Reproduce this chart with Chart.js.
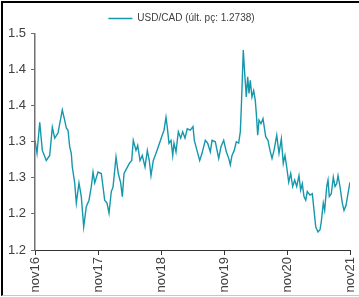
<!DOCTYPE html>
<html lang="pt">
<head>
<meta charset="UTF-8">
<title>USD/CAD</title>
<script src="https://cdn.jsdelivr.net/npm/chart.js"></script>
<style>
    html, body {
        margin: 0;
        padding: 0;
        background: #fff;
    }
    #wrap {
        position: relative;
        width: 359px;
        height: 297px;
        overflow: hidden;
    }
    #frame {
        position: absolute;
        left: 1px;
        top: 1px;
        width: 358px;
        height: 292px;
        border-top: 2px solid #000;
        border-left: 2px solid #000;
        border-bottom: 1px solid #c8c8c8;
        pointer-events: none;
    }
    canvas {
        position: absolute;
        left: 0;
        top: 0;
    }
</style>
</head>
<body>
<div id="wrap">
    <canvas id="fxChart" width="359" height="297"></canvas>
    <div id="frame"></div>
</div>

<script>
    // years since nov16 and the USD/CAD level
    const years = [
        0.000, 0.032, 0.075, 0.116, 0.179, 0.233, 0.275, 0.313, 0.365, 0.433,
        0.471, 0.497, 0.524, 0.551, 0.576, 0.592, 0.630, 0.656, 0.698, 0.735,
        0.773, 0.814, 0.857, 0.894, 0.921, 0.948, 1.000, 1.052, 1.079, 1.106,
        1.143, 1.175, 1.211, 1.238, 1.286, 1.322, 1.360, 1.386, 1.413, 1.456,
        1.497, 1.535, 1.560, 1.603, 1.630, 1.667, 1.703, 1.746, 1.783, 1.814,
        1.841, 1.878, 1.921, 1.957, 2.011, 2.048, 2.079, 2.100, 2.127, 2.159,
        2.186, 2.206, 2.238, 2.275, 2.313, 2.344, 2.381, 2.417, 2.465, 2.508,
        2.529, 2.571, 2.614, 2.651, 2.703, 2.741, 2.783, 2.810, 2.862, 2.916,
        2.952, 2.995, 3.037, 3.075, 3.100, 3.127, 3.163, 3.195, 3.233, 3.259,
        3.275, 3.290, 3.306, 3.329, 3.354, 3.376, 3.397, 3.417, 3.444, 3.471,
        3.497, 3.513, 3.535, 3.556, 3.587, 3.619, 3.662, 3.698, 3.730, 3.762,
        3.794, 3.837, 3.873, 3.910, 3.941, 3.968, 3.995, 4.027, 4.059, 4.090,
        4.122, 4.154, 4.190, 4.217, 4.243, 4.270, 4.297, 4.322, 4.365, 4.402,
        4.429, 4.456, 4.492, 4.524, 4.544, 4.576, 4.598, 4.630, 4.651, 4.671,
        4.703, 4.735, 4.762, 4.789, 4.810, 4.841, 4.878, 4.905, 4.937, 4.968,
        5.000
    ];
    const usdcad = [
        1.352, 1.334, 1.377, 1.338, 1.324, 1.331, 1.370, 1.355, 1.362, 1.394,
        1.380, 1.369, 1.366, 1.343, 1.334, 1.315, 1.293, 1.265, 1.293, 1.274,
        1.232, 1.260, 1.269, 1.288, 1.308, 1.293, 1.308, 1.306, 1.288, 1.269,
        1.265, 1.251, 1.281, 1.287, 1.329, 1.306, 1.293, 1.274, 1.306, 1.313,
        1.320, 1.324, 1.352, 1.338, 1.345, 1.324, 1.331, 1.315, 1.338, 1.324,
        1.303, 1.324, 1.334, 1.343, 1.357, 1.366, 1.384, 1.370, 1.348, 1.352,
        1.331, 1.348, 1.336, 1.364, 1.355, 1.364, 1.355, 1.368, 1.366, 1.371,
        1.352, 1.338, 1.324, 1.334, 1.352, 1.348, 1.336, 1.352, 1.350, 1.327,
        1.343, 1.352, 1.336, 1.327, 1.318, 1.331, 1.338, 1.350, 1.348, 1.364,
        1.398, 1.435, 1.477, 1.444, 1.412, 1.440, 1.417, 1.435, 1.412, 1.421,
        1.407, 1.389, 1.359, 1.380, 1.375, 1.382, 1.357, 1.352, 1.338, 1.327,
        1.338, 1.359, 1.334, 1.354, 1.320, 1.331, 1.315, 1.294, 1.306, 1.288,
        1.297, 1.288, 1.303, 1.283, 1.292, 1.274, 1.269, 1.281, 1.276, 1.278,
        1.255, 1.232, 1.225, 1.228, 1.239, 1.265, 1.255, 1.288, 1.297, 1.274,
        1.278, 1.301, 1.288, 1.292, 1.303, 1.288, 1.265, 1.255, 1.262, 1.278,
        1.294
    ];
    const xTickLabels = ['nov16', 'nov17', 'nov18', 'nov19', 'nov20', 'nov21'];
    const yTickLabels = ['1.2', '1.2', '1.3', '1.3', '1.4', '1.4', '1.5'];
    const seriesLabel = 'USD/CAD (últ. pç: 1.2738)';

    const lineColor = '#1597ac';

    const ctx = document.getElementById('fxChart').getContext('2d');
    new Chart(ctx, {
        type: 'line',
        data: {
            datasets: [{
                label: seriesLabel,
                data: years.map((t, i) => ({ x: t, y: usdcad[i] })),
                borderColor: lineColor,
                backgroundColor: lineColor,
                borderWidth: 1.4,
                pointRadius: 0,
                tension: 0
            }]
        },
        options: {
            responsive: false,
            animation: false,
            layout: {
                padding: { top: 4, left: 4, right: 0, bottom: 4 }
            },
            plugins: {
                legend: {
                    position: 'top',
                    labels: {
                        usePointStyle: true,
                        pointStyle: 'line',
                        pointStyleWidth: 24,
                        color: '#404040',
                        font: { family: 'Liberation Sans, Arial, sans-serif', size: 10 },
                        padding: 9.5
                    }
                },
                tooltip: { enabled: false }
            },
            scales: {
                x: {
                    type: 'linear',
                    min: 0,
                    max: 5,
                    afterFit: scale => {
                        scale.height = 43;
                        scale.paddingRight = 9;
                        scale.paddingLeft = 0;
                    },
                    border: { display: true, color: '#333', width: 1 },
                    grid: { drawOnChartArea: false, drawTicks: true, tickLength: 5, color: '#333' },
                    ticks: {
                        stepSize: 1,
                        autoSkip: false,
                        maxRotation: 90,
                        minRotation: 90,
                        padding: 2,
                        color: '#404040',
                        font: { family: 'Liberation Sans, Arial, sans-serif', size: 13 },
                        callback: (value, index) => xTickLabels[index]
                    }
                },
                y: {
                    min: 1.2,
                    max: 1.5,
                    afterFit: scale => { scale.width = 31; },
                    border: { display: true, color: '#707070', width: 1.5 },
                    grid: { drawOnChartArea: false, drawTicks: true, tickLength: 4, color: '#707070' },
                    ticks: {
                        stepSize: 0.05,
                        padding: 5,
                        color: '#404040',
                        font: { family: 'Liberation Sans, Arial, sans-serif', size: 13 },
                        callback: (value, index) => yTickLabels[index]
                    }
                }
            }
        }
    });
</script>
</body>
</html>
